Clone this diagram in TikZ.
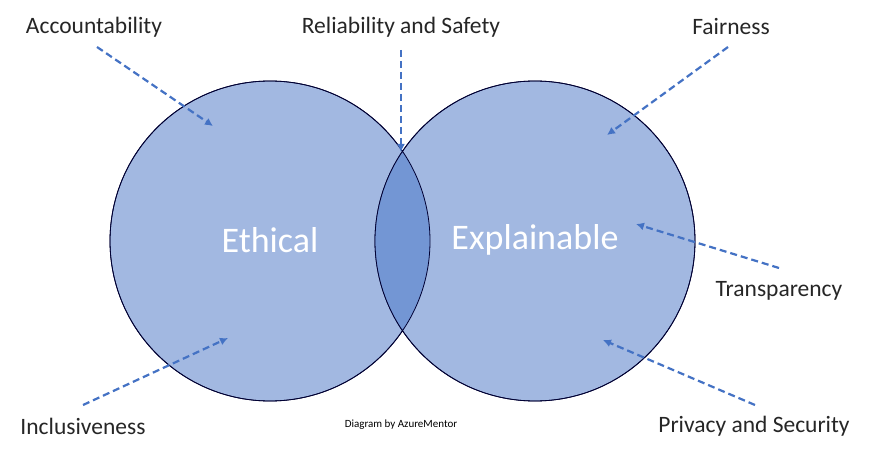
\documentclass[tikz,border=0pt]{standalone}
\usepackage{fontspec}
\setmainfont{Carlito}
\begin{document}
\begin{tikzpicture}[x=1pt,y=-1pt,
  circ/.style={draw=black!80!blue,line width=0.8pt,fill=circfill},
  arr/.style={draw=arrblue,line width=2.2pt,dash pattern=on 7pt off 4pt,-{Latex[length=8pt,width=8pt]}},
  lab/.style={font=\fontsize{23.5}{28}\selectfont,text=black!85}]
\usetikzlibrary{arrows.meta}
\definecolor{circfill}{HTML}{A2B8E1}
\definecolor{midfill}{HTML}{7396D4}
\definecolor{arrblue}{HTML}{4472C4}
\useasboundingbox (0,0) rectangle (872,462);
\path[circ] (270,241) circle (160);
\path[circ] (535,241) circle (160);
\begin{scope}
\clip (270,241) circle (160);
\fill[midfill] (535,241) circle (160);
\end{scope}
\draw[black!80!blue,line width=0.8pt] (270,241) circle (160) (535,241) circle (160);
\node[text=white,font=\fontsize{36}{42}\selectfont] (eth) at (270,240) {Ethical};
\node[text=white,font=\fontsize{36}{42}\selectfont] (exp) at (535,240) {Explainable};
\node[lab] (acc) at (94,27) {Accountability};
\node[lab] (rel) at (401,27) {Reliability and Safety};
\node[lab] (fai) at (731,27) {Fairness};
\node[lab] (tra) at (779,291) {Transparency};
\node[lab] (inc) at (83,426) {Inclusiveness};
\node[lab] (pri) at (754,426) {Privacy and Security};
\node[font=\fontsize{11}{12}\selectfont] (cred) at (401,425) {Diagram by AzureMentor};
\coordinate (a1) at (97,47); \coordinate (a2) at (213,126);
\coordinate (r1) at (401,50); \coordinate (r2) at (401,152);
\coordinate (f1) at (728,47); \coordinate (f2) at (607,135);
\coordinate (t1) at (779,268); \coordinate (t2) at (636,224);
\coordinate (p1) at (755,405); \coordinate (p2) at (603,340);
\coordinate (i1) at (83,405); \coordinate (i2) at (228,338);
\foreach \s/\e in {a1/a2,r1/r2,f1/f2,t1/t2,p1/p2,i1/i2} \draw[arr] (\s) -- (\e);
\end{tikzpicture}
\end{document}
